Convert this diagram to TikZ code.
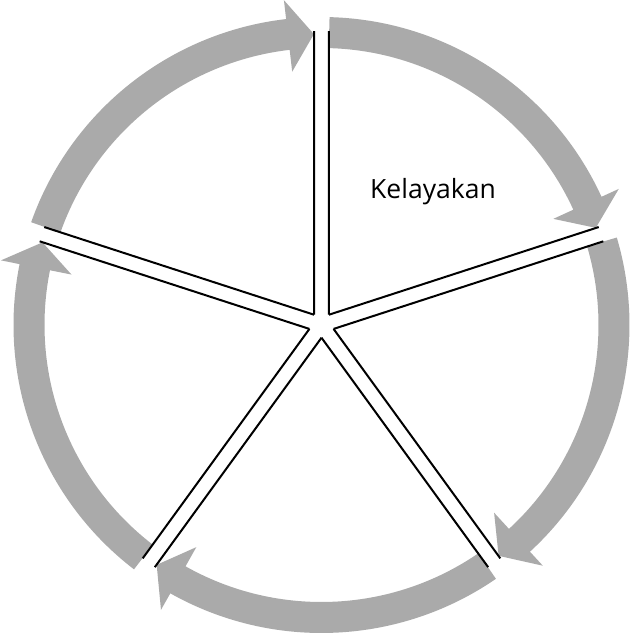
\documentclass[tikz,border=0pt]{standalone}
\usepackage{fontspec}
\setmainfont{Open Sans}
\definecolor{arrowgray}{RGB}{170,170,170}
\tikzset{
  cyclearrow/.style={fill=arrowgray, draw=none},
  divider/.style={draw=black, line width=2pt, line cap=butt},
  label/.style={font=\fontsize{26.5}{30}\selectfont, text=black, inner sep=0pt}
}
\begin{document}
\begin{tikzpicture}
\useasboundingbox (-321.5pt,-308pt) rectangle (308.5pt,325pt);
\def\dd{1.5}
\def\hh{6.6}
% gray cycle arrows, each ending at divider \b
\foreach \b in {90,18,-54,-126,162}{
  \pgfmathsetmacro{\a}{\b+72}
  \pgfmathsetmacro{\sa}{\a-\dd}
  \pgfmathsetmacro{\ba}{\b+\hh}
  \pgfmathsetmacro{\ta}{\b+\dd}
  \fill[cyclearrow] (\sa:308pt) arc[start angle=\sa, end angle=\ba, radius=308pt]
     -- (\ba:327pt) -- (\ta:291pt) -- (\ba:255pt) -- (\ba:277pt)
     arc[start angle=\ba, end angle=\sa, radius=277pt] -- cycle;
}
% divider double lines
\foreach \t in {90,18,-54,-126,162}{
  \pgfmathsetmacro{\pa}{\t+36}
  \pgfmathsetmacro{\pb}{\t+1.46}
  \pgfmathsetmacro{\qa}{\t-36}
  \pgfmathsetmacro{\qb}{\t-1.46}
  \coordinate (inA\t) at (\pa:12.7pt);
  \coordinate (outA\t) at (\pb:294pt);
  \coordinate (inB\t) at (\qa:12.7pt);
  \coordinate (outB\t) at (\qb:294pt);
  \draw[divider] (inA\t) -- (outA\t);
  \draw[divider] (inB\t) -- (outB\t);
}
\node[label, anchor=base] (kelayakan) at (111.5pt,127pt) {Kelayakan};
\end{tikzpicture}
\end{document}
